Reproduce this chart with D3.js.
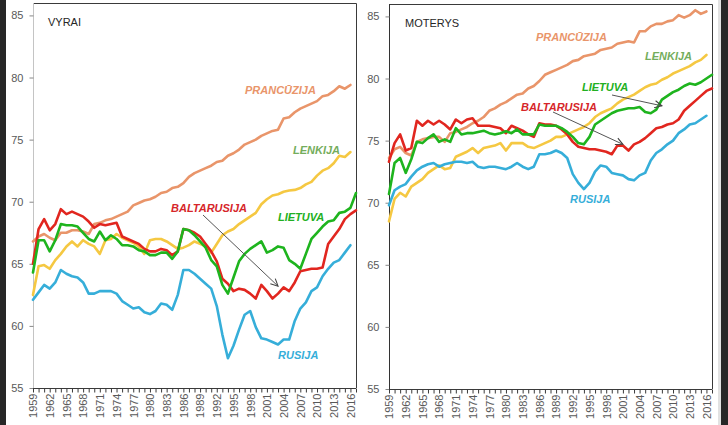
<!DOCTYPE html>
<html>
<head>
<meta charset="utf-8">
<script src="https://cdn.jsdelivr.net/npm/d3@7/dist/d3.min.js"></script>
<style>
  html, body { margin: 0; padding: 0; background: #fff; }
  svg { display: block; }
  text { font-family: "Liberation Sans", Arial, sans-serif; }
</style>
</head>
<body>
<svg id="chart" width="728" height="425"></svg>
<script>
// ---------- DATA ----------
const years = [1959,1960,1961,1962,1963,1964,1965,1966,1967,1968,
  1969,1970,1971,1972,1973,1974,1975,1976,1977,1978,
  1979,1980,1981,1982,1983,1984,1985,1986,1987,1988,
  1989,1990,1991,1992,1993,1994,1995,1996,1997,1998,
  1999,2000,2001,2002,2003,2004,2005,2006,2007,2008,
  2009,2010,2011,2012,2013,2014,2015,2016,2017];
const xTickLabels = ["1959","1962","1965","1968","1971","1974","1977","1980","1983","1986",
  "1989","1992","1995","1998","2001","2004","2007","2010","2013","2016"];
const yTicks = [55, 60, 65, 70, 75, 80, 85];
const seriesNames = ["PRANCŪZIJA", "LENKIJA", "RUSIJA", "BALTARUSIJA", "LIETUVA"];

// VYRAI (men)
const vyraiPrancuzija = [66.8,67.2,67.4,67.1,66.9,67.5,67.5,67.7,67.7,67.6,
  67.4,68.2,68.3,68.5,68.6,68.8,69.0,69.2,69.7,69.9,
  70.1,70.2,70.4,70.7,70.8,71.1,71.2,71.5,72.0,72.3,
  72.5,72.7,72.9,73.2,73.3,73.7,73.9,74.2,74.6,74.8,
  75.0,75.3,75.5,75.7,75.8,76.7,76.8,77.2,77.5,77.7,
  77.9,78.1,78.5,78.6,78.9,79.3,79.1,79.4];
const vyraiLenkija = [62.5,64.8,64.9,64.6,65.3,65.8,66.4,66.8,66.4,66.9,
  66.6,66.4,65.8,66.9,67.0,67.4,67.1,66.9,66.7,66.4,
  65.8,66.9,67.0,67.0,66.8,66.5,66.2,66.3,66.5,66.8,
  66.6,66.4,65.9,66.6,67.3,67.6,67.8,68.2,68.5,68.8,
  69.1,69.8,70.2,70.5,70.6,70.8,70.9,70.95,71.1,71.4,
  71.6,72.1,72.5,72.7,73.1,73.7,73.6,74.0];
const vyraiRusija = [62.1,62.7,63.3,63.0,63.5,64.5,64.2,64.0,63.9,63.5,
  62.6,62.6,62.8,62.8,62.8,62.6,62.0,61.7,61.4,61.5,
  61.1,60.95,61.2,61.8,61.7,61.3,62.5,64.5,64.5,64.2,
  63.8,63.4,63.0,61.6,59.3,57.4,58.4,59.7,60.9,61.2,
  59.9,59.0,58.9,58.7,58.5,58.9,58.9,60.4,61.4,61.9,
  62.8,63.1,64.0,64.6,65.1,65.3,65.9,66.5];
const vyraiBaltarusija = [65.0,67.8,68.6,67.7,68.2,69.4,69.0,69.2,69.0,68.8,
  68.4,67.9,68.2,68.1,68.2,68.3,67.2,67.0,66.8,66.6,
  66.2,66.0,66.0,66.2,66.1,65.7,66.0,67.8,67.7,67.5,
  67.2,66.6,66.0,65.2,63.8,63.4,62.8,63.0,62.9,62.6,
  62.2,63.3,62.8,62.2,62.6,63.1,62.8,63.5,64.4,64.5,
  64.6,64.6,64.7,66.6,67.2,67.8,68.6,69.0,69.3];
const vyraiLietuva = [64.3,66.9,66.9,66.0,66.9,68.2,68.1,68.1,68.0,67.5,
  67.0,66.8,67.6,66.9,67.3,67.0,66.5,66.5,66.4,66.1,
  66.0,65.7,65.7,65.9,65.9,65.4,66.0,67.8,67.7,67.3,
  66.8,66.3,65.3,64.8,63.3,62.6,63.9,65.2,65.8,66.2,
  66.5,66.8,65.9,66.1,66.4,66.3,65.3,65.0,64.6,65.8,
  67.0,67.5,68.0,68.4,68.5,69.1,69.2,69.5,70.7];

// MOTERYS (women)
const moterysPrancuzija = [73.6,74.3,74.5,74.0,73.8,74.9,75.1,75.2,75.3,75.3,
  74.9,75.6,75.7,75.9,76.1,76.4,76.6,76.9,77.4,77.6,
  77.9,78.1,78.4,78.7,78.8,79.2,79.4,79.8,80.3,80.5,
  80.7,80.9,81.1,81.4,81.5,81.8,81.9,82.0,82.3,82.4,
  82.5,82.8,82.9,83.0,82.9,83.8,83.8,84.2,84.4,84.4,
  84.6,84.7,85.1,84.9,85.1,85.5,85.2,85.4];
const moterysLenkija = [68.5,70.3,70.8,70.5,71.3,71.6,71.9,72.4,72.7,73.0,
  72.7,72.8,73.7,73.9,74.1,74.4,74.0,74.4,74.5,74.6,
  74.8,74.2,74.8,74.8,74.8,74.5,74.4,74.6,74.8,75.0,
  75.3,75.3,75.5,75.7,75.9,76.1,76.4,76.9,77.2,77.4,
  77.6,78.0,78.3,78.5,78.7,79.0,79.3,79.5,79.6,79.9,
  80.1,80.4,80.6,80.8,81.0,81.3,81.5,81.9];
const moterysRusija = [69.8,71.0,71.3,71.5,72.1,72.6,72.9,73.1,73.2,72.9,
  73.1,73.2,73.3,73.3,73.2,73.3,72.9,72.8,72.9,72.9,
  72.8,72.7,72.9,73.2,72.9,72.7,72.9,73.9,73.9,74.0,
  74.2,74.0,73.6,72.3,71.6,71.1,71.6,72.5,73.0,72.9,
  72.4,72.3,72.2,71.9,71.8,72.2,72.4,73.4,74.0,74.3,
  74.7,75.0,75.6,75.9,76.3,76.4,76.7,77.0];
const moterysBaltarusija = [73.3,74.8,75.5,74.2,74.4,76.6,76.2,76.6,76.3,76.6,
  76.3,75.9,76.7,76.4,76.7,76.8,76.2,76.2,76.2,76.1,
  76.0,75.6,76.2,76.0,75.8,75.5,75.3,76.4,76.3,76.3,
  76.2,75.9,75.5,74.9,74.5,74.4,74.3,74.3,74.2,74.1,
  73.9,74.6,74.6,74.2,74.7,74.9,75.2,75.6,76.0,76.1,
  76.3,76.4,76.7,77.4,77.8,78.2,78.6,79.0,79.2];
const moterysLietuva = [70.7,73.2,73.6,72.4,73.5,74.9,74.8,75.2,75.5,74.9,
  75.1,74.9,76.0,75.5,75.6,75.6,75.7,75.8,75.6,75.5,
  75.6,75.75,75.6,75.9,75.5,75.5,75.5,76.3,76.2,76.2,
  76.2,76.0,75.7,75.3,74.8,74.7,75.3,76.3,76.6,76.9,
  77.2,77.4,77.5,77.6,77.6,77.7,77.3,77.2,77.5,78.3,
  78.6,78.9,79.1,79.4,79.6,79.5,79.7,80.0,80.3];

// ---------- STYLE ----------
const lineColors = {
  "PRANCŪZIJA": "#E9956A",
  "LENKIJA": "#F5C842",
  "RUSIJA": "#36AED9",
  "BALTARUSIJA": "#E1261F",
  "LIETUVA": "#1EB41E"
};
const labelColors = {
  "PRANCŪZIJA": "#E9956A",
  "LENKIJA": "#74AD5C",
  "RUSIJA": "#36AED9",
  "BALTARUSIJA": "#D6262A",
  "LIETUVA": "#22B022"
};

const panels = [
  {
    title: "VYRAI", titleX: 48, titleY: 26,
    x0: 33, x1: 356, yTop: 3, yBot: 388, yAxisColor: "#c4c4c4",
    series: [vyraiPrancuzija, vyraiLenkija, vyraiRusija, vyraiBaltarusija, vyraiLietuva],
    labels: [
      {name: "PRANCŪZIJA", x: 245, y: 94},
      {name: "LENKIJA", x: 293, y: 154},
      {name: "BALTARUSIJA", x: 171, y: 212},
      {name: "LIETUVA", x: 278, y: 221},
      {name: "RUSIJA", x: 278, y: 359}
    ],
    arrows: [ {sx: 203, sy: 215, year: 2003, value: 63.2} ]
  },
  {
    title: "MOTERYS", titleX: 405, titleY: 27,
    x0: 389, x1: 712, yTop: 4, yBot: 389, yAxisColor: "#333",
    series: [moterysPrancuzija, moterysLenkija, moterysRusija, moterysBaltarusija, moterysLietuva],
    labels: [
      {name: "PRANCŪZIJA", x: 536, y: 41},
      {name: "LENKIJA", x: 645, y: 60},
      {name: "LIETUVA", x: 582, y: 91},
      {name: "BALTARUSIJA", x: 521, y: 111},
      {name: "RUSIJA", x: 570, y: 203}
    ],
    arrows: [
      {sx: 612, sy: 95, year: 2008, value: 77.8},
      {sx: 553, sy: 112, year: 2001, value: 74.7}
    ]
  }
];

// ---------- DRAW ----------
const svg = d3.select("#chart");
svg.append("rect").attr("x", 0).attr("y", 0).attr("width", 728).attr("height", 425).attr("fill", "#fff");
svg.append("rect").attr("x", 0).attr("y", 0).attr("width", 6).attr("height", 425).attr("fill", "#272727");
svg.append("rect").attr("x", 721).attr("y", 0).attr("width", 7).attr("height", 425).attr("fill", "#272727");
svg.append("rect").attr("x", 718).attr("y", 0).attr("width", 3).attr("height", 425).attr("fill", "#e2e2e2");

const defs = svg.append("defs");
defs.append("marker")
  .attr("id", "arrowhead")
  .attr("viewBox", "0 0 10 10")
  .attr("refX", 9).attr("refY", 5)
  .attr("markerWidth", 9).attr("markerHeight", 9)
  .attr("markerUnits", "userSpaceOnUse")
  .attr("orient", "auto")
  .append("path")
  .attr("d", "M1,1 L9,5 L1,9")
  .attr("fill", "none")
  .attr("stroke", "#444")
  .attr("stroke-width", 1.2);

panels.forEach(p => {
  const x = d3.scaleLinear().domain([years[0], years[years.length - 1]]).range([p.x0, p.x1]);
  const y = d3.scaleLinear().domain([55, 86]).range([p.yBot, p.yTop]);
  const g = svg.append("g");

  // frame: top + right
  g.append("path")
    .attr("d", `M${p.x0},${p.yTop + 0.5}H${p.x1 + 0.5}V${p.yBot}`)
    .attr("fill", "none").attr("stroke", "#3a3a3a").attr("stroke-width", 1);

  // y axis
  const yAxis = d3.axisLeft(y).tickValues(yTicks).tickSize(4).tickPadding(6).tickFormat(d3.format("d"));
  const ya = g.append("g").attr("transform", `translate(${p.x0 + 0.5},0)`).call(yAxis);
  ya.select(".domain").attr("stroke", p.yAxisColor).attr("d", `M0,${p.yTop}V${p.yBot}`);
  ya.selectAll(".tick line").attr("stroke", "#888");
  ya.selectAll("text").attr("font-size", 11).attr("fill", "#595959")
    .attr("font-family", "'Liberation Sans', Arial, sans-serif");

  // x axis
  const xAxis = d3.axisBottom(x).tickValues(years).tickSize(4)
    .tickFormat(d => xTickLabels.includes(String(d)) ? String(d) : "");
  const xa = g.append("g").attr("transform", `translate(0,${p.yBot + 0.5})`).call(xAxis);
  xa.select(".domain").attr("stroke", "#3a3a3a").attr("d", `M${p.x0},0H${p.x1}`);
  xa.selectAll(".tick line").attr("stroke", "#3a3a3a");
  xa.selectAll("text")
    .attr("font-size", 11).attr("fill", "#595959")
    .attr("font-family", "'Liberation Sans', Arial, sans-serif")
    .attr("transform", "rotate(-90)")
    .attr("text-anchor", "end")
    .attr("x", -5).attr("y", 0).attr("dy", "0.35em");

  // lines
  const line = d3.line()
    .x((d, i) => x(years[i]))
    .y(d => y(d));
  p.series.forEach((s, k) => {
    g.append("path")
      .datum(s)
      .attr("d", line)
      .attr("fill", "none")
      .attr("stroke", lineColors[seriesNames[k]])
      .attr("stroke-width", 2.6)
      .attr("stroke-linejoin", "round")
      .attr("stroke-linecap", "round");
  });

  // title
  g.append("text").attr("x", p.titleX).attr("y", p.titleY)
    .attr("font-size", 11).attr("fill", "#262626").text(p.title);

  // series labels
  p.labels.forEach(l => {
    g.append("text").attr("x", l.x).attr("y", l.y)
      .attr("font-size", 11).attr("font-weight", "bold").attr("font-style", "italic")
      .attr("fill", labelColors[l.name]).text(l.name);
  });

  // arrows
  p.arrows.forEach(a => {
    g.append("line")
      .attr("x1", a.sx).attr("y1", a.sy)
      .attr("x2", x(a.year)).attr("y2", y(a.value))
      .attr("stroke", "#555").attr("stroke-width", 1)
      .attr("marker-end", "url(#arrowhead)");
  });
});
</script>
</body>
</html>
